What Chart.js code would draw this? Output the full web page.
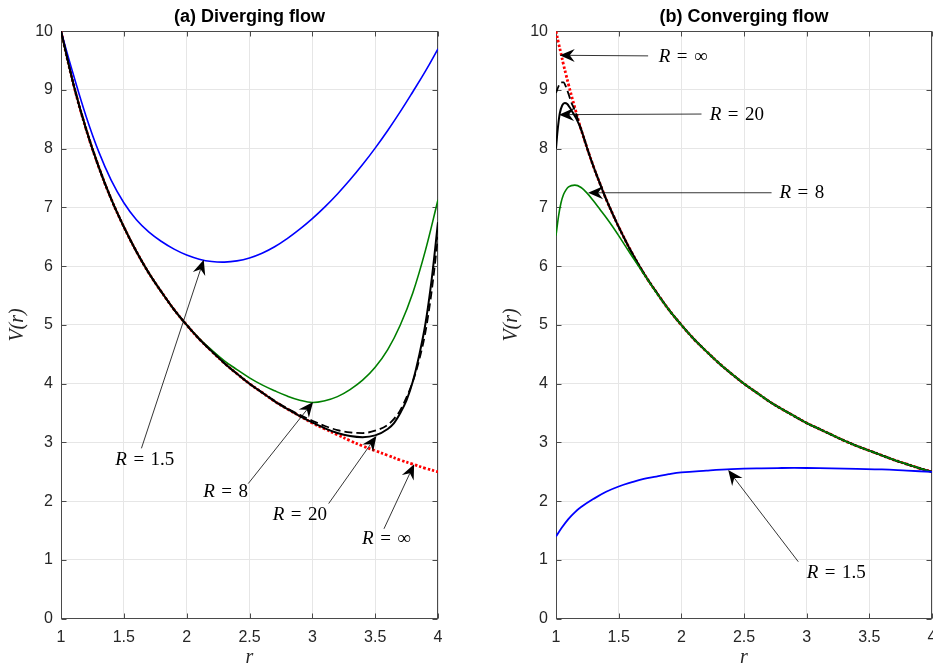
<!DOCTYPE html>
<html><head><meta charset="utf-8">
<script src="https://cdn.jsdelivr.net/npm/chart.js@4.4.1/dist/chart.umd.min.js"></script>
<style>
html,body{margin:0;padding:0;background:#fff;overflow:hidden;width:933px;height:666px;}
#ca{position:absolute;left:0;top:0;}
#cb{position:absolute;left:466px;top:0;}
</style></head><body>
<canvas id="ca" width="466" height="666"></canvas>
<canvas id="cb" width="480" height="666"></canvas>
<script>
// ---------- data: panel (a) diverging flow ----------
const rA = [1.0,1.1,1.2,1.3,1.4,1.5,1.6,1.7,1.8,1.9,2.0,2.1,2.2,2.3,2.4,2.5,2.6,2.7,2.8,2.9,3.0,3.1,3.2,3.3,3.4,3.5,3.6,3.7,3.8,3.9,4.0];
const blueA  = [10.0,9.25,8.55,7.95,7.46,7.08,6.79,6.58,6.42,6.29,6.19,6.12,6.08,6.07,6.09,6.14,6.22,6.33,6.47,6.63,6.81,7.01,7.23,7.47,7.73,8.01,8.31,8.63,8.97,9.32,9.70];
const greenA = [10.0,9.09,8.33,7.69,7.14,6.67,6.25,5.88,5.56,5.26,5.00,4.77,4.57,4.39,4.24,4.10,3.98,3.88,3.79,3.72,3.68,3.71,3.78,3.90,4.06,4.28,4.58,5.00,5.55,6.27,7.13];
const redA   = [10.0,9.09,8.33,7.69,7.14,6.67,6.25,5.88,5.56,5.26,5.00,4.76,4.55,4.35,4.17,4.00,3.85,3.70,3.57,3.45,3.33,3.23,3.13,3.03,2.94,2.86,2.78,2.70,2.63,2.56,2.50];
const rA20 = [1.0,1.1,1.2,1.3,1.4,1.5,1.6,1.7,1.8,1.9,2.0,2.1,2.2,2.3,2.4,2.5,2.6,2.7,2.8,2.9,3.0,3.1,3.2,3.3,3.4,3.5,3.6,3.65,3.7,3.75,3.8,3.85,3.9,3.95,4.0];
const solidA = [10.0,9.09,8.33,7.69,7.14,6.67,6.25,5.88,5.56,5.26,5.00,4.76,4.55,4.35,4.17,4.00,3.85,3.70,3.57,3.45,3.34,3.24,3.16,3.11,3.09,3.12,3.23,3.33,3.50,3.72,4.04,4.48,5.02,5.78,6.75];
const dashA  = [10.0,9.09,8.33,7.69,7.14,6.67,6.25,5.88,5.56,5.26,5.00,4.76,4.55,4.35,4.17,4.00,3.85,3.71,3.58,3.47,3.37,3.28,3.21,3.17,3.16,3.20,3.30,3.40,3.55,3.77,4.04,4.40,4.88,5.58,6.50];

// ---------- data: panel (b) converging flow ----------
const rB = [1.0,1.02,1.04,1.06,1.08,1.1,1.15,1.2,1.25,1.3,1.35,1.4,1.45,1.5,1.6,1.7,1.8,1.9,2.0,2.1,2.2,2.3,2.4,2.5,2.6,2.7,2.8,2.9,3.0,3.1,3.2,3.3,3.4,3.5,3.6,3.7,3.8,3.9,4.0];
const redB   = [10.0,9.80,9.62,9.43,9.26,9.09,8.70,8.33,8.00,7.69,7.41,7.14,6.90,6.67,6.25,5.88,5.56,5.26,5.00,4.76,4.55,4.35,4.17,4.00,3.85,3.70,3.57,3.45,3.33,3.23,3.13,3.03,2.94,2.86,2.78,2.70,2.63,2.56,2.50];
const greenB = [6.52,6.85,7.08,7.22,7.30,7.35,7.38,7.34,7.24,7.11,6.97,6.83,6.68,6.52,6.19,5.87,5.55,5.26,5.00,4.76,4.55,4.35,4.17,4.00,3.85,3.70,3.57,3.45,3.33,3.23,3.13,3.03,2.94,2.86,2.78,2.70,2.63,2.56,2.50];
const rB20 = [1.0,1.01,1.02,1.03,1.05,1.07,1.09,1.11,1.13,1.16,1.2,1.25,1.3,1.35,1.4,1.45,1.5,1.6,1.7,1.8,1.9,2.0,2.1,2.2,2.3,2.4,2.5,2.6,2.7,2.8,2.9,3.0,3.1,3.2,3.3,3.4,3.5,3.6,3.7,3.8,3.9,4.0];
const solidB = [8.00,8.25,8.45,8.60,8.74,8.78,8.76,8.70,8.63,8.52,8.33,8.00,7.69,7.41,7.14,6.90,6.67,6.25,5.88,5.56,5.26,5.00,4.76,4.55,4.35,4.17,4.00,3.85,3.70,3.57,3.45,3.33,3.23,3.13,3.03,2.94,2.86,2.78,2.70,2.63,2.56,2.50];
const rBd = [1.0,1.02,1.04,1.06,1.08,1.1,1.12,1.15,1.2,1.25,1.3,1.35,1.4,1.45,1.5,1.6,1.7,1.8,1.9,2.0,2.1,2.2,2.3,2.4,2.5,2.6,2.7,2.8,2.9,3.0,3.1,3.2,3.3,3.4,3.5,3.6,3.7,3.8,3.9,4.0];
const dashB  = [8.95,9.06,9.13,9.13,9.05,8.93,8.80,8.65,8.33,8.00,7.69,7.41,7.14,6.90,6.67,6.25,5.88,5.56,5.26,5.00,4.76,4.55,4.35,4.17,4.00,3.85,3.70,3.57,3.45,3.33,3.23,3.13,3.03,2.94,2.86,2.78,2.70,2.63,2.56,2.50];
const rBblue = [1.0,1.05,1.1,1.15,1.2,1.3,1.4,1.5,1.6,1.7,1.8,1.9,2.0,2.2,2.4,2.6,2.8,3.0,3.2,3.4,3.6,3.8,4.0];
const blueB  = [1.40,1.56,1.70,1.81,1.90,2.04,2.16,2.25,2.32,2.38,2.42,2.46,2.49,2.52,2.545,2.56,2.565,2.565,2.56,2.55,2.54,2.52,2.50];

// ---------- tick labels / titles ----------
const xTicks = [1,1.5,2,2.5,3,3.5,4];
const yTicks = [0,1,2,3,4,5,6,7,8,9,10];
const titleA = '(a) Diverging flow';
const titleB = '(b) Converging flow';

// ---------- annotations (label value, text centre, arrow tail, arrow head) in data units ----------
const annA = [
  {v:'1.5', tx:1.667, ty:2.73, x0:1.64, y0:2.90, x1:2.136, y1:6.11},
  {v:'8',   tx:2.31,  ty:2.17, x0:2.49, y0:2.30, x1:3.006, y1:3.69},
  {v:'20',  tx:2.90,  ty:1.78, x0:3.13, y0:1.96, x1:3.51,  y1:3.11},
  {v:'\u221E', tx:3.59, ty:1.37, x0:3.57, y0:1.53, x1:3.81, y1:2.63}
];
const annB = [
  {v:'\u221E', tx:2.014, ty:9.575, x0:1.735, y0:9.58, x1:1.030, y1:9.59},
  {v:'20',  tx:2.443, ty:8.59, x0:2.161, y0:8.59, x1:1.024, y1:8.58},
  {v:'8',   tx:2.962, ty:7.26, x0:2.72,  y0:7.25, x1:1.256, y1:7.25},
  {v:'1.5', tx:3.236, ty:0.80, x0:2.933, y0:0.97, x1:2.374, y1:2.53}
];

const SANS = "'Liberation Sans', Arial, Helvetica, sans-serif";
const SERIF = "'Liberation Serif', 'Times New Roman', serif";
const xy = (r, v) => r.map((x, i) => ({x: x, y: v[i]}));

function ds(r, v, color, width, dash, order, mono) {
  return {data: xy(r, v), borderColor: color, backgroundColor: color, borderWidth: width,
    borderDash: dash || [], pointRadius: 0, fill: false,
    cubicInterpolationMode: mono ? 'monotone' : 'default', tension: 0.4, order: order};
}

const framePlugin = {
  id: 'frame',
  beforeDatasetsDraw(chart) {
    const ctx = chart.ctx, a = chart.chartArea, x = chart.scales.x, y = chart.scales.y;
    ctx.save();
    ctx.strokeStyle = '#4a4a4a'; ctx.lineWidth = 1;
    const L = Math.round(a.left) + 0.5, R = Math.round(a.right) - 0.5, T = Math.round(a.top) + 0.5, B = Math.round(a.bottom) - 0.5;
    ctx.strokeRect(L, T, R - L, B - T);
    ctx.beginPath();
    xTicks.forEach(t => { const p = Math.round(x.getPixelForValue(t)) + 0.5; ctx.moveTo(p, B); ctx.lineTo(p, B - 5); ctx.moveTo(p, T); ctx.lineTo(p, T + 5); });
    yTicks.forEach(t => { const p = Math.round(y.getPixelForValue(t)) + 0.5; ctx.moveTo(L, p); ctx.lineTo(L + 5, p); ctx.moveTo(R, p); ctx.lineTo(R - 5, p); });
    ctx.stroke();
    ctx.restore();
  }
};

function drawLabel(ctx, cx, cy, val) {
  const fs = 19;
  const fI = 'italic ' + fs + 'px ' + SERIF, fN = fs + 'px ' + SERIF;
  ctx.font = fI; const wR = ctx.measureText('R').width;
  ctx.font = fN; const wE = ctx.measureText('=').width, wV = ctx.measureText(val).width;
  const gap = fs * 0.34;
  let x = cx - (wR + gap + wE + gap + wV) / 2;
  const y = cy + fs * 0.33;
  ctx.textAlign = 'left'; ctx.textBaseline = 'alphabetic'; ctx.fillStyle = '#000';
  ctx.font = fI; ctx.fillText('R', x, y); x += wR + gap;
  ctx.font = fN; ctx.fillText('=', x, y); x += wE + gap; ctx.fillText(val, x, y);
}

function drawArrow(ctx, x0, y0, x1, y1) {
  const dx = x1 - x0, dy = y1 - y0, Ln = Math.hypot(dx, dy), ux = dx / Ln, uy = dy / Ln, nx = -uy, ny = ux;
  const hl = 15, hw = 6.5, notch = 10;
  ctx.beginPath(); ctx.moveTo(x0, y0); ctx.lineTo(x1 - ux * notch, y1 - uy * notch); ctx.stroke();
  ctx.beginPath();
  ctx.moveTo(x1, y1);
  ctx.lineTo(x1 - ux * hl + nx * hw, y1 - uy * hl + ny * hw);
  ctx.lineTo(x1 - ux * notch, y1 - uy * notch);
  ctx.lineTo(x1 - ux * hl - nx * hw, y1 - uy * hl - ny * hw);
  ctx.closePath(); ctx.fill();
}

const annPlugin = {
  id: 'arrows',
  afterDatasetsDraw(chart, args, opts) {
    const ctx = chart.ctx, x = chart.scales.x, y = chart.scales.y;
    ctx.save();
    ctx.strokeStyle = '#000'; ctx.fillStyle = '#000'; ctx.lineWidth = 0.8;
    (opts.items || []).forEach(a => {
      drawArrow(ctx, x.getPixelForValue(a.x0), y.getPixelForValue(a.y0), x.getPixelForValue(a.x1), y.getPixelForValue(a.y1));
      drawLabel(ctx, x.getPixelForValue(a.tx), y.getPixelForValue(a.ty), a.v);
    });
    ctx.restore();
  }
};

function makeChart(id, title, datasets, ann, yWidth, padRight, yTitlePad) {
  return new Chart(document.getElementById(id), {
    type: 'line',
    data: {datasets: datasets},
    plugins: [framePlugin, annPlugin],
    options: {
      responsive: false, animation: false, devicePixelRatio: 1,
      layout: {padding: {left: 0, right: padRight, top: 0, bottom: 0}},
      plugins: {
        legend: {display: false}, tooltip: {enabled: false},
        title: {display: true, text: title, fullSize: false, color: '#000',
          font: {family: SANS, size: 18, weight: 'bold', lineHeight: 1.2}, padding: {top: 6.5, bottom: 3.1}},
        arrows: {items: ann}
      },
      scales: {
        x: {type: 'linear', min: 1, max: 4,
          afterBuildTicks: s => { s.ticks = xTicks.map(v => ({value: v})); },
          ticks: {color: '#262626', font: {family: SANS, size: 16}, padding: 9.5, maxRotation: 0, autoSkip: false, callback: v => String(v)},
          grid: {color: '#e6e6e6', drawTicks: false, lineWidth: 1}, border: {display: false},
          title: {display: true, text: 'r', color: '#262626', font: {family: SERIF, style: 'italic', size: 20, lineHeight: 0.8}, padding: {top: 0, bottom: 0}},
          afterFit: s => { s.height = 47.3; s.paddingLeft = 0; s.paddingRight = 0; }
        },
        y: {type: 'linear', min: 0, max: 10,
          afterBuildTicks: s => { s.ticks = yTicks.map(v => ({value: v})); },
          ticks: {color: '#262626', font: {family: SANS, size: 16}, padding: 8, callback: v => String(v)},
          grid: {color: '#e6e6e6', drawTicks: false, lineWidth: 1}, border: {display: false},
          title: {display: true, text: 'V(r)', color: '#262626', font: {family: SERIF, style: 'italic', size: 20, lineHeight: 1.2}, padding: {top: yTitlePad, bottom: 0}},
          afterFit: s => { s.width = yWidth; s.paddingTop = 0; s.paddingBottom = 0; }
        }
      }
    }
  });
}

makeChart('ca', titleA, [
  ds(rA20, solidA, '#000000', 2, null, 0, true),
  ds(rA20, dashA, '#000000', 1.8, [8, 4], 1, true),
  ds(rA, blueA, '#0000ff', 1.6, null, 2, false),
  ds(rA, greenA, '#007f00', 1.6, null, 3, false),
  ds(rA, redA, '#ff0000', 2.8, [2.5, 2], 4, false)
], annA, 61, 28, 5.5);

makeChart('cb', titleB, [
  ds(rBblue, blueB, '#0000ff', 1.8, null, 0, false),
  ds(rB, greenB, '#007f00', 1.6, null, 1, true),
  ds(rB20, solidB, '#000000', 2, null, 2, true),
  ds(rBd, dashB, '#000000', 1.8, [8, 4], 3, true),
  ds(rB, redB, '#ff0000', 2.8, [2.5, 2], 4, false)
], annB, 90, 14, 33.7);
</script>
</body></html>
